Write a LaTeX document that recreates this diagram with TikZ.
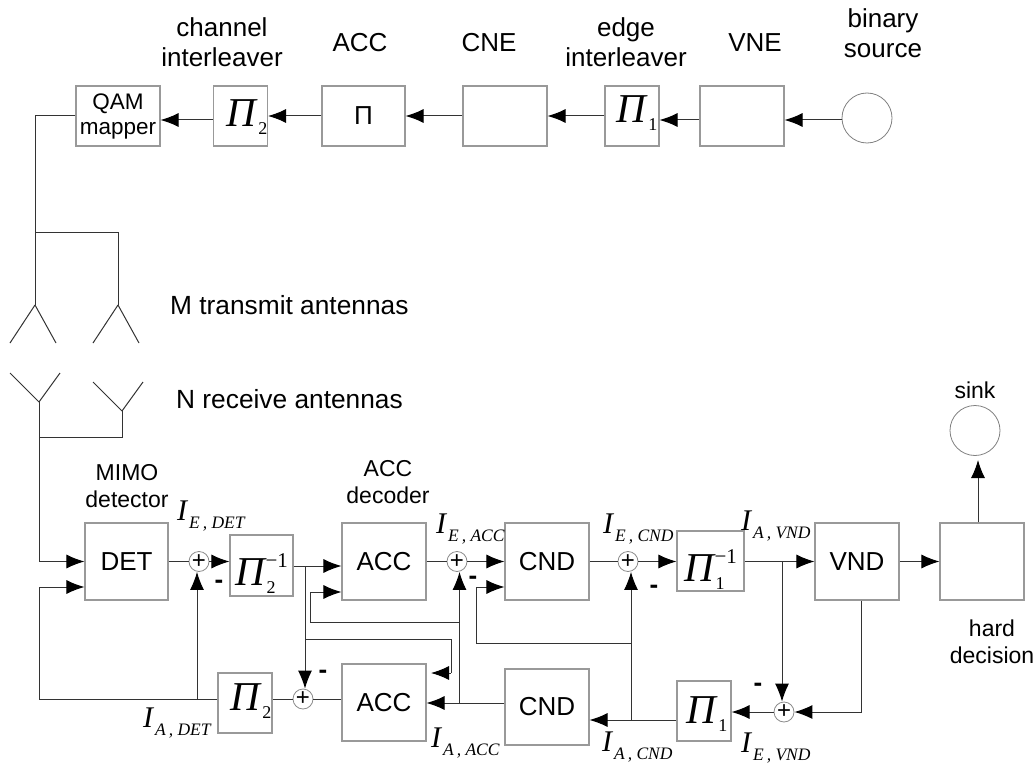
\documentclass[tikz,border=0pt]{standalone}
\usepackage{fontspec}
\setmainfont{Liberation Sans}
\newfontfamily\serifface{Liberation Serif}
\usetikzlibrary{arrows.meta}

% interleaver symbol: big Pi with subscript and superscript, baseline lowered by #1
\newcommand{\pisym}[3][0pt]{\raisebox{-#1}[0pt][0pt]{{\serifface\itshape\fontsize{41}{41}\selectfont Π}%
	\makebox[0pt][l]{\raisebox{-8pt}{\serifface\fontsize{18}{18}\selectfont\hspace{2pt}#2}}%
	\raisebox{18pt}{\serifface\fontsize{21}{21}\selectfont\hspace{1pt}#3}}}
% mutual information label
\newcommand{\infolab}[2]{{\serifface\itshape\fontsize{30}{30}\selectfont I}%
	\raisebox{-8pt}{\serifface\itshape\fontsize{17.5}{18}\selectfont\hspace{2pt}#1\,, #2}}

\tikzset{
	blockbox/.style={shape=rectangle, draw=black!40, line width=1.1pt, inner sep=0pt, align=center, minimum width=84pt, minimum height=77pt, font=\fontsize{26}{30}\selectfont},
	pibox/.style={blockbox, minimum width=54pt, minimum height=60pt},
	topbox/.style={blockbox, minimum height=60pt},
	sumnode/.style={shape=circle, draw=black!45, line width=0.8pt, inner sep=0pt, minimum size=20pt, font=\fontsize{24}{24}\selectfont},
	endnode/.style={shape=circle, draw=black!50, line width=0.8pt, inner sep=0pt, minimum size=50pt},
	wire/.style={draw=black!80, line width=1pt},
	caption/.style={align=center, font=\fontsize{26}{30}\selectfont},
	smallcaption/.style={align=center, font=\fontsize{23}{27}\selectfont},
	minuslab/.style={inner sep=0pt, font=\fontsize{26}{26}\selectfont\bfseries},
	infonode/.style={anchor=base west, inner sep=0pt}
}

\begin{document}
\begin{tikzpicture}[x=1pt, y=-1pt, >={Latex[length=18pt,width=14pt,black]}, every edge/.append style={wire}]
	\useasboundingbox (0,0) rectangle (1036,765);

	% transmitter row
	\node (qam)[topbox, minimum width=84pt, font=\fontsize{22.5}{25}\selectfont] at (118,116) {QAM \\ mapper};
	\node (pitwo)[pibox] at (240.5,116) {\hspace{3pt}\pisym[11pt]{2}{}};
	\node (acce)[topbox, minimum width=83pt] at (363.5,116) {Π};
	\node (cne)[topbox] at (505,116) {};
	\node (pione)[pibox] at (632,116) {\pisym[7pt]{1}{}};
	\node (vne)[topbox] at (742,116) {};
	\node (src)[endnode] at (867,118) {};

	\node (capchan)[caption] at (222,42) {channel \\ interleaver};
	\node (capacc)[caption] at (360,43) {ACC};
	\node (capcne)[caption] at (489,43) {CNE};
	\node (capedge)[caption] at (626,42) {edge \\ interleaver};
	\node (capvne)[caption] at (755,43) {VNE};
	\node (capsrc)[caption] at (883,33) {binary \\ source};

	\path[->] ([yshift=-2pt]src.west) edge ([yshift=-4pt]vne.east);
	\path[->] ([yshift=-4pt]vne.west) edge ([yshift=-4pt]pione.east);
	\path[->] (pione) edge (cne);
	\path[->] (cne) edge (acce);
	\path[->] (acce) edge (pitwo);
	\path[->] ([yshift=-4pt]pitwo.west) edge ([yshift=-4pt]qam.east);

	% antennas
	\coordinate (txa) at (35,305);
	\coordinate (txb) at (118,305);
	\coordinate (txj) at (35,232);
	\coordinate (rxa) at (39,402);
	\coordinate (rxb) at (122,411);
	\coordinate (rxj) at (39,437);
	\draw[wire] (qam.west) -| (txa);
	\draw[wire] (txj) -| (txb);
	\draw[wire] (txa) -- ++(-25,38);
	\draw[wire] (txa) -- ++(21,38);
	\draw[wire] (txb) -- ++(-25,38);
	\draw[wire] (txb) -- ++(21,38);
	\draw[wire] (rxa) -- ++(-29,-29);
	\draw[wire] (rxa) -- ++(21,-29);
	\draw[wire] (rxb) -- ++(-29,-29);
	\draw[wire] (rxb) -- ++(21,-29);
	\draw[wire] (rxj) -| (rxb);
	\node (captx)[caption, anchor=west, inner sep=0pt, font=\fontsize{26.3}{30}\selectfont] at (170,305) {M transmit antennas};
	\node (caprx)[caption, anchor=west, inner sep=0pt, font=\fontsize{26.3}{30}\selectfont] at (176,399) {N receive antennas};

	% receiver, upper row
	\node (det)[blockbox, minimum width=83pt] at (126.5,561.5) {DET};
	\node (sumdet)[sumnode] at (199,561.5) {+};
	\node (pitwoinv)[pibox, minimum width=63pt, minimum height=61pt] at (261.5,565.5) {\pisym[19.5pt]{2}{−1}};
	\node (acc)[blockbox] at (384,561.5) {ACC};
	\node (sumacc)[sumnode] at (457,561.5) {+};
	\node (cnd)[blockbox] at (547,561.5) {CND};
	\node (sumcnd)[sumnode] at (628,561.5) {+};
	\node (pioneinv)[pibox, minimum width=67pt] at (710.5,561) {\pisym[20pt]{1}{−1}};
	\node (vnd)[blockbox] at (857,561.5) {VND};
	\node (hard)[blockbox] at (982,561.5) {};
	\node (sink)[endnode] at (975,430.5) {};

	% receiver, lower row
	\node (pitwolow)[pibox] at (245,703) {\hspace{2pt}\pisym[7pt]{2}{}};
	\node (sumlow)[sumnode] at (303,699) {+};
	\node (acclow)[blockbox] at (384,702.5) {ACC};
	\node (cndlow)[blockbox, minimum height=76pt] at (547,707) {CND};
	\node (pionelow)[pibox] at (704,711) {\hspace{-4pt}\pisym[12pt]{1}{}};
	\node (sumvnd)[sumnode] at (784,712) {+};

	\node (capdet)[smallcaption] at (127,486) {MIMO \\ detector};
	\node (capdec)[smallcaption] at (388,482) {ACC \\ decoder};
	\node (caphard)[smallcaption] at (992,642) {hard \\ decision};
	\node (capsink)[smallcaption] at (975,390) {sink};

	\node (iedet)[infonode] at (177,520) {\infolab{E}{DET}};
	\node (ieacc)[infonode] at (436,533) {\infolab{E}{ACC}};
	\node (iecnd)[infonode] at (603,533) {\infolab{E}{CND}};
	\node (iavnd)[infonode] at (741,530) {\infolab{A}{VND}};
	\node (iadet)[infonode] at (143,727) {\infolab{A}{DET}};
	\node (iaacc)[infonode] at (431,747) {\infolab{A}{ACC}};
	\node (iacnd)[infonode] at (602,751) {\infolab{A}{CND}};
	\node (ievnd)[infonode] at (741,752) {\infolab{E}{VND}};

	\node (mindet)[minuslab] at (219,584) {-};
	\node (minlow)[minuslab] at (323,674) {-};
	\node (minacc)[minuslab] at (473,580) {-};
	\node (mincnd)[minuslab] at (654,589) {-};
	\node (minvnd)[minuslab] at (758,687) {-};

	% branch points
	\coordinate (tapdet) at (197,699);
	\coordinate (tapacc) at (459.5,703);
	\coordinate (tapcnd) at (631,720);
	\coordinate (tapint) at (305,566);
	\coordinate (tapvnd) at (782,561.5);
	\coordinate (tapsink) at (978,460);
	\coordinate (downvnd) at (861,712);

	% forward paths
	\draw[wire,->] (rxa) |- (det.west);
	\path (det) edge (sumdet);
	\path[->] (sumdet) edge (sumdet -| pitwoinv.west);
	\path[->] (pitwoinv.east |- tapint) edge (acc.west |- tapint);
	\path (acc) edge (sumacc);
	\path[->] (sumacc) edge (cnd);
	\path (cnd) edge (sumcnd);
	\path[->] (sumcnd) edge (sumcnd -| pioneinv.west);
	\path[->] (pioneinv.east |- tapvnd) edge (vnd.west);
	\path[->] (vnd) edge (hard);
	\path[->] (hard.north -| tapsink) edge (tapsink);

	% backward paths
	\draw[wire,->] (vnd.south -| downvnd) -- (downvnd) -- (sumvnd.east);
	\path[->] (sumvnd) edge (pionelow.east |- sumvnd);
	\path[->] (pionelow.west |- tapcnd) edge (cndlow.east |- tapcnd);
	\path[->] (cndlow.west |- tapacc) edge (acclow.east |- tapacc);
	\path (acclow.west |- sumlow) edge (sumlow);
	\path (sumlow) edge (sumlow -| pitwolow.east);
	\draw[wire,->] (pitwolow.west |- sumlow) -- (39,699) -- (39,587) -- (det.west |- 0,587);

	% side branches
	\path[->] (tapdet) edge (sumdet.south -| tapdet);
	\path[->] (tapacc) edge (sumacc.south -| tapacc);
	\path[->] (tapcnd) edge (sumcnd.south -| tapcnd);
	\path[->] (tapint) edge (sumlow.north -| tapint);
	\path[->] (tapvnd) edge (sumvnd.north -| tapvnd);
	\draw[wire,->] (459.5,622) -- (310,622) -- (310,592) -- (acc.west |- 0,592);
	\draw[wire,->] (631,643) -- (476,643) -- (476,587) -- (cnd.west |- 0,587);
	\draw[wire] (305,639) -- (451,639) -- (451,673);
	\draw[wire,->] (451,673) -- (431,673);
\end{tikzpicture}
\end{document}
